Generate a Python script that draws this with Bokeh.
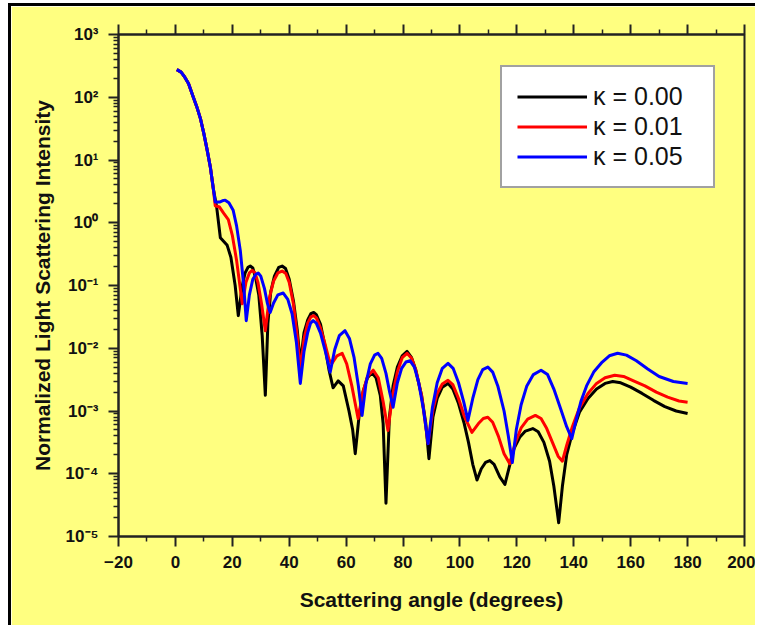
import numpy as np
from bokeh.plotting import figure
from bokeh.models import (FixedTicker, LinearAxis, CustomJSTickFormatter, Legend,
                          LegendItem, Range1d, CustomLabelingPolicy)
from bokeh.embed import file_html
from bokeh.resources import INLINE

# ---------------- data (values stored as log10 of intensity) -------------
black_x = [0.5, 2, 3.3, 4.6, 6.3, 7.5, 8.8, 10, 11.2, 12.3, 13.3, 14.5, 15.8, 17, 18.2, 19.5,
           21, 22.1, 23.5, 24.5, 25.5, 26.3, 27.2, 28.2, 29.3, 30.5, 31.6, 32.5, 33.5, 34.8,
           36.3, 37.5, 38.7, 40, 41.5, 42.8, 43.9, 45.2, 46.5, 47.6, 48.6, 49.6, 51, 52.5, 54,
           55.4, 57.2, 59, 61, 62.3, 63.2, 64.5, 66, 67.5, 69.1, 70.5, 72, 73, 74, 75.2, 76.5,
           78, 79.7, 81.4, 83, 84.5, 86.5, 88, 89.1, 90.5, 92, 93.8, 95.8, 97.5, 99.5, 101.5,
           103, 104.5, 106, 107.5, 109, 110.5, 112, 114, 115.8, 117.3, 119, 121, 123, 125.6,
           127.5, 129.5, 131.5, 133, 134.7, 136, 137.5, 139.5, 142, 145, 148, 151, 153.7, 156.5,
           160, 164, 168, 172, 176, 180]
black_log = [2.44, 2.40, 2.32, 2.22, 2.0, 1.85, 1.66, 1.42, 1.15, 0.88, 0.55, 0.25, -0.24,
             -0.30, -0.36, -0.55, -1.0, -1.48, -1.0, -0.8, -0.71, -0.69, -0.72, -0.88, -1.15,
             -1.8, -2.75, -1.6, -1.1, -0.85, -0.71, -0.69, -0.73, -0.9, -1.25, -1.7, -2.24,
             -1.75, -1.55, -1.45, -1.43, -1.47, -1.62, -1.95, -2.35, -2.63, -2.52, -2.6, -3.0,
             -3.3, -3.68, -3.1, -2.68, -2.47, -2.39, -2.47, -2.75, -3.2, -4.47, -3.1, -2.6,
             -2.3, -2.12, -2.05, -2.15, -2.35, -2.75, -3.2, -3.76, -3.1, -2.8, -2.62, -2.56,
             -2.65, -2.88, -3.2, -3.5, -3.85, -4.1, -3.92, -3.82, -3.79, -3.85, -4.05, -4.17,
             -3.9, -3.6, -3.42, -3.32, -3.28, -3.33, -3.5, -3.8, -4.2, -4.78, -4.2, -3.7,
             -3.35, -3.02, -2.8, -2.65, -2.56, -2.53, -2.55, -2.62, -2.72, -2.83, -2.93, -3.0,
             -3.04]

red_x = [0.5, 2, 3.3, 4.6, 6.3, 7.5, 8.8, 10, 11.2, 12.3, 13.3, 14, 15.5, 17, 18.6, 20, 21.5,
         23.5, 24.8, 26, 27, 28, 29, 30.3, 31.6, 33, 34.5, 36, 37.5, 38.8, 40, 41.5, 42.8,
         43.9, 45.2, 46.5, 47.6, 48.6, 49.6, 51, 52.5, 54, 55, 56.8, 58.6, 60.2, 62, 64.2,
         65.8, 67.5, 69.5, 71.3, 73, 74.7, 76.3, 78, 79.7, 81.4, 83, 84.5, 86.5, 88.8, 90.5,
         92, 93.8, 95.8, 97.5, 99.5, 101.5, 104.2, 106.5, 108.2, 109.8, 111.5, 113.5, 115.5,
         117.5, 119.5, 121.5, 123.8, 126.5, 128.5, 130.5, 132.5, 134.5, 136, 137.5, 139.5,
         142, 145, 148, 151, 154.4, 157.5, 161, 165, 169, 173, 177, 180]
red_log = [2.44, 2.40, 2.32, 2.22, 2.0, 1.85, 1.66, 1.42, 1.15, 0.88, 0.55, 0.27, 0.25, 0.15,
           0.05, -0.2, -0.6, -1.29, -0.95, -0.8, -0.76, -0.8, -0.95, -1.3, -1.72, -1.2, -0.93,
           -0.8, -0.77, -0.81, -0.95, -1.3, -1.8, -2.35, -1.85, -1.6, -1.5, -1.48, -1.52,
           -1.68, -1.92, -2.18, -2.24, -2.12, -2.08, -2.25, -2.6, -3.12, -2.72, -2.45, -2.35,
           -2.47, -2.85, -3.31, -2.75, -2.38, -2.15, -2.08, -2.16, -2.35, -2.75, -3.52, -2.98,
           -2.72, -2.57, -2.51, -2.58, -2.8, -3.08, -3.34, -3.2, -3.12, -3.1, -3.18, -3.4,
           -3.68, -3.84, -3.5, -3.27, -3.13, -3.07, -3.12, -3.28, -3.5, -3.72, -3.8, -3.55,
           -3.25, -2.95, -2.72, -2.56, -2.47, -2.43, -2.45, -2.52, -2.6, -2.7, -2.78, -2.84,
           -2.86]

blue_x = [0.5, 2, 3.3, 4.6, 6.3, 7.5, 8.8, 10, 11.2, 12.3, 13.3, 14, 15.5, 16.5, 17.5, 18.8,
          20.3, 21.5, 22.8, 24, 24.9, 26, 27.2, 28.3, 29.1, 30, 31.3, 32.3, 33.3, 34.5, 36,
          37.9, 39.5, 41, 42.5, 43.9, 45.2, 46.5, 47.5, 48.4, 49.5, 51, 52.7, 54.4, 56, 57.6,
          59.6, 61.2, 62.8, 64.3, 65.6, 67, 68.5, 70, 71.2, 72.5, 74, 75.3, 76.5, 78, 79.5, 81,
          82.5, 84, 85.5, 87.2, 88.8, 90.3, 92, 93.8, 95.8, 97.6, 99.5, 101.3, 102.8, 104.5,
          106.3, 108, 109.8, 111.5, 113.3, 115.5, 117, 118.4, 119.8, 121.5, 123.5, 125.8,
          128.5, 130.8, 133, 135.5, 137.5, 139.3, 140.8, 142.5, 144.5, 147, 150, 152.5, 155.4,
          158.5, 162, 166, 170, 175, 180]
blue_log = [2.44, 2.40, 2.32, 2.22, 2.0, 1.85, 1.66, 1.42, 1.15, 0.88, 0.55, 0.33, 0.33, 0.35,
            0.36, 0.32, 0.2, -0.05, -0.44, -1.0, -1.56, -1.15, -0.9, -0.82, -0.8, -0.85,
            -1.05, -1.28, -1.43, -1.28, -1.15, -1.12, -1.22, -1.45, -1.9, -2.56, -2.05, -1.75,
            -1.6, -1.56, -1.6, -1.76, -2.05, -2.38, -2.02, -1.8, -1.72, -1.85, -2.15, -2.6,
            -3.07, -2.55, -2.25, -2.11, -2.08, -2.16, -2.4, -2.7, -2.94, -2.55, -2.32, -2.22,
            -2.2, -2.3, -2.55, -2.98, -3.52, -2.95, -2.55, -2.32, -2.24, -2.32, -2.55, -2.85,
            -3.15, -2.8, -2.5, -2.34, -2.3, -2.38, -2.6, -3.0, -3.4, -3.82, -3.3, -2.9, -2.6,
            -2.42, -2.35, -2.42, -2.65, -2.98, -3.25, -3.44, -3.15, -2.85, -2.6, -2.38, -2.22,
            -2.12, -2.08, -2.11, -2.2, -2.33, -2.45, -2.53, -2.56]

series_labels = ["κ = 0.00", "κ = 0.01", "κ = 0.05"]
series_colors = ["#000000", "#FF0000", "#0000FF"]

x_major = list(range(-20, 201, 20))
x_minor = list(range(-10, 200, 20))
y_major = [10.0 ** e for e in range(-5, 4)]
y_minor = [m * 10.0 ** e for e in range(-5, 3) for m in range(2, 10)]

# ---------------- figure ----------------
YELLOW = "#FFFF80"
FONT = "Liberation Sans"
W, H = 747, 622

p = figure(width=W, height=H, y_axis_type="log",
           x_range=Range1d(-20, 200), y_range=Range1d(1e-5, 1e3),
           output_backend="svg", toolbar_location=None,
           min_border_left=107, min_border_right=14, min_border_top=28, min_border_bottom=92)
p.styles = {"margin-left": "8px", "margin-top": "3px",
            "border-left": "3px solid black", "border-top": "3px solid black"}
p.background_fill_color = YELLOW
p.border_fill_color = YELLOW
p.outline_line_color = "#222222"
p.outline_line_width = 2
p.xgrid.visible = False
p.ygrid.visible = False

renderers = []
for xs, ls, c in [(black_x, black_log, series_colors[0]),
                  (red_x, red_log, series_colors[1]),
                  (blue_x, blue_log, series_colors[2])]:
    ys = np.power(10.0, np.array(ls))
    r = p.line(xs, ys, line_color=c, line_width=3, line_join="round")
    renderers.append(r)

sup_js = """
const m = {'-':'\u207B','0':'\u2070','1':'\u00B9','2':'\u00B2','3':'\u00B3','4':'\u2074',
           '5':'\u2075','6':'\u2076','7':'\u2077','8':'\u2078','9':'\u2079'};
const e = Math.round(Math.log10(tick));
return '10' + String(e).split('').map(c => m[c]).join('');
"""


def style_axis(ax):
    ax.axis_line_color = "#222222"
    ax.axis_line_width = 2
    ax.major_tick_line_color = "#222222"
    ax.major_tick_line_width = 2
    ax.minor_tick_line_color = "#222222"
    ax.minor_tick_line_width = 1.5
    ax.major_tick_out = 10
    ax.major_tick_in = 0
    ax.minor_tick_out = 5
    ax.minor_tick_in = 0
    ax.major_label_text_font = FONT
    ax.major_label_text_font_style = "bold"
    ax.major_label_text_font_size = "17px"
    ax.major_label_text_color = "#111111"
    ax.axis_label_text_font = FONT
    ax.axis_label_text_font_style = "bold"
    ax.axis_label_text_font_size = "21px"
    ax.axis_label_text_color = "#111111"


xa = p.xaxis[0]
xa.ticker = FixedTicker(ticks=x_major, minor_ticks=x_minor)
style_axis(xa)
xa.axis_label = "Scattering angle (degrees)"
xa.major_label_standoff = 9
xa.axis_label_standoff = 17

ya = p.yaxis[0]
ya.ticker = FixedTicker(ticks=y_major, minor_ticks=y_minor)
ya.formatter = CustomJSTickFormatter(code=sup_js)
style_axis(ya)
ya.axis_label = "Normalized Light Scattering Intensity"
ya.major_label_standoff = 10
ya.axis_label_standoff = 8

top = LinearAxis(ticker=FixedTicker(ticks=x_major, minor_ticks=x_minor))
style_axis(top)
top.major_label_text_font_size = "2px"
top.major_label_standoff = 0
top.major_label_policy = CustomLabelingPolicy(code="return new Set()")
p.add_layout(top, "above")

legend = Legend(items=[LegendItem(label=series_labels[i], renderers=[renderers[i]]) for i in range(3)],
                location=(382, 348))
legend.label_text_font = FONT
legend.label_text_font_size = "25px"
legend.label_text_color = "#111111"
legend.glyph_width = 70
legend.glyph_height = 29
legend.label_height = 29
legend.label_width = 105
legend.label_standoff = 6
legend.padding = 15
legend.spacing = 1
legend.margin = 0
legend.border_line_color = "#444444"
legend.border_line_width = 2
legend.background_fill_color = "white"
legend.background_fill_alpha = 1.0
p.add_layout(legend)

open("out.html", "w").write(file_html(p, INLINE))
